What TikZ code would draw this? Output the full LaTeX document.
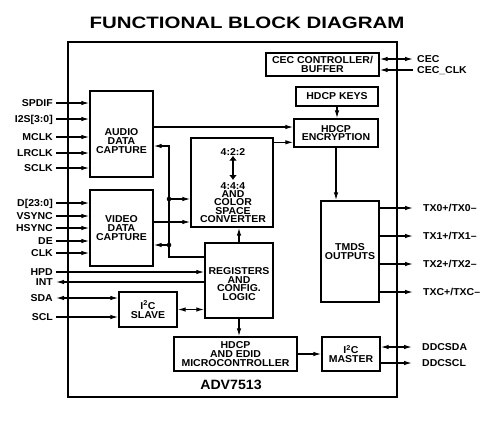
\documentclass[tikz,border=0pt]{standalone}
\usepackage{fontspec}
\setmainfont[FakeStretch=1.05]{Liberation Sans}
\newfontfamily\titlefont[FakeStretch=1.24]{Liberation Sans}
\usetikzlibrary{positioning,calc}
\usetikzlibrary{arrows.meta}
\tikzstyle{block} = [rectangle, draw=black, line width=1.4pt, align=center, inner sep=0pt,
font=\fontsize{10}{8.6}\selectfont\bfseries]
\tikzstyle{blocktext} = [align=center, inner sep=0pt, font=\fontsize{10}{8.6}\selectfont\bfseries]
\tikzstyle{signal} = [inner sep=0pt, inner xsep=3pt, text height=7pt, text depth=0pt,
font=\fontsize{10}{10}\selectfont\bfseries]
\tikzstyle{arrow} = [line width=1.2pt,-{Latex[length=8pt,width=4.5pt]}]
\tikzstyle{darrow} = [line width=1.2pt,{Latex[length=8pt,width=4.5pt]}-{Latex[length=8pt,width=4.5pt]}]

\begin{document}
\begin{tikzpicture}[x=1pt,y=-1pt]
\useasboundingbox (0,0) rectangle (491,421);
\node (title) at (247,23) {\titlefont\fontsize{16.5}{18}\selectfont\bfseries FUNCTIONAL BLOCK DIAGRAM};
\node (chip) at (232.5,219.5) [draw, line width=1.6pt, minimum width=329pt, minimum height=355pt] {};
\node (part) at (231,385) [font=\fontsize{13.5}{14}\selectfont\bfseries] {ADV7513};
% blocks
\node (audio) at (121.5,134) [block, minimum width=63pt, minimum height=86pt] {};
\node (audiotxt) at (121.5,141) [blocktext] {AUDIO\\DATA\\CAPTURE};
\node (video) at (121.5,228) [block, minimum width=63pt, minimum height=76pt] {VIDEO\\DATA\\CAPTURE};
\node (csc) at (232,182.5) [block, minimum width=82pt, minimum height=89pt] {};
\node (csc422) at (233,152) [signal] {4:2:2};
\node (csc444) at (233,202.5) [blocktext, font=\fontsize{10}{8.4}\selectfont\bfseries] {4:4:4\\AND\\COLOR\\SPACE\\CONVERTER};
\node (regs) at (239,280.5) [block, minimum width=68pt, minimum height=75pt] {};
\node (regstxt) at (239,284) [blocktext] {REGISTERS\\AND\\CONFIG.\\LOGIC};
\node (slave) at (148,309.5) [block, minimum width=58pt, minimum height=35pt] {I\textsuperscript{2}C\\SLAVE};
\node (cecbuf) at (322.5,64.5) [block, minimum width=113pt, minimum height=23pt] {CEC CONTROLLER/\\BUFFER};
\node (keys) at (337,96.5) [block, minimum width=82pt, minimum height=19pt] {HDCP KEYS};
\node (enc) at (336,133) [block, minimum width=84pt, minimum height=28pt] {HDCP\\ENCRYPTION};
\node (tmds) at (350,251.5) [block, minimum width=58pt, minimum height=101pt] {TMDS\\OUTPUTS};
\node (micro) at (235.5,354) [block, minimum width=123pt, minimum height=34pt] {HDCP\\AND EDID\\MICROCONTROLLER};
\node (master) at (351,354) [block, minimum width=58pt, minimum height=34pt] {I\textsuperscript{2}C\\MASTER};
% audio inputs
\node (spdif) at (56,103) [signal, anchor=east] {SPDIF};
\node (iis) at (56,119) [signal, anchor=east] {I2S[3:0]};
\node (mclk) at (56,137) [signal, anchor=east] {MCLK};
\node (lrclk) at (56,153) [signal, anchor=east] {LRCLK};
\node (sclk) at (56,168) [signal, anchor=east] {SCLK};
\draw[arrow] (spdif.east) -- (spdif.east -| audio.west);
\draw[arrow] (iis.east) -- (iis.east -| audio.west);
\draw[arrow] (mclk.east) -- (mclk.east -| audio.west);
\draw[arrow] (lrclk.east) -- (lrclk.east -| audio.west);
\draw[arrow] (sclk.east) -- (sclk.east -| audio.west);
% video inputs
\node (data) at (56,203) [signal, anchor=east] {D[23:0]};
\node (vsync) at (56,216) [signal, anchor=east] {VSYNC};
\node (hsync) at (56,228) [signal, anchor=east] {HSYNC};
\node (de) at (56,241) [signal, anchor=east] {DE};
\node (clk) at (56,253) [signal, anchor=east] {CLK};
\draw[arrow] (data.east) -- (data.east -| video.west);
\draw[arrow] (vsync.east) -- (vsync.east -| video.west);
\draw[arrow] (hsync.east) -- (hsync.east -| video.west);
\draw[arrow] (de.east) -- (de.east -| video.west);
\draw[arrow] (clk.east) -- (clk.east -| video.west);
% control
\node (hpd) at (56,272) [signal, anchor=east] {HPD};
\node (int) at (56,282) [signal, anchor=east] {INT};
\node (sda) at (56,298) [signal, anchor=east] {SDA};
\node (scl) at (56,317) [signal, anchor=east] {SCL};
\draw[arrow] (hpd.east) -- (hpd.east -| regs.west);
\draw[arrow] (int.east -| regs.west) -- (int.east);
\draw[darrow] (sda.east) -- (sda.east -| slave.west);
\draw[arrow] (scl.east) -- (scl.east -| slave.west);
\draw[darrow] (slave.east) -- (slave.east -| regs.west);
% internal paths
\coordinate (bus1) at (169,199);
\coordinate (bus2) at (169,245);
\draw[arrow] ([yshift=23.5pt]regs.west) -| (bus1) |- ([yshift=-12pt]audio.east);
\draw[arrow] (bus1) -- (bus1 -| csc.west);
\draw[arrow] (bus2) -- (bus2 -| video.east);
\fill (bus1) circle (2.3pt);
\fill (bus2) circle (2.3pt);
\draw[arrow] ([yshift=6pt]video.east) -- ([yshift=6pt]video.east -| csc.west);
\draw[arrow] ([yshift=7pt]audio.east) -- ([yshift=7pt]audio.east -| enc.west);
\draw[arrow] ([yshift=-5pt]csc.north east) -- ([yshift=-5pt]csc.north east -| enc.west);
\draw[line width=2.6pt, {Latex[length=5pt,width=8pt]}-{Latex[length=5pt,width=8pt]}] (csc422.south) -- ([yshift=2pt]csc444.north);
\draw[arrow] (regs.north) -- (regs.north |- csc.south);
\draw[arrow] (regs.south) -- (regs.south |- micro.north);
\draw[arrow] (keys.south) -- (keys.south |- enc.north);
\draw[arrow] (enc.south) -- (enc.south |- tmds.north);
\draw[arrow] (micro.east) -- (micro.east -| master.west);
% outputs
\node (cec) at (414,59) [signal, anchor=west] {CEC};
\node (cecclk) at (414,70) [signal, anchor=west] {CEC\_CLK};
\draw[darrow, shorten >=1pt] (cec.west -| cecbuf.east) -- (cec.west);
\draw[arrow, shorten <=1pt] (cecclk.west) -- (cecclk.west -| cecbuf.east);
\node (tx0) at (420,208) [signal, anchor=west] {TX0+/TX0–};
\node (tx1) at (420,236) [signal, anchor=west] {TX1+/TX1–};
\node (tx2) at (420,264) [signal, anchor=west] {TX2+/TX2–};
\node (txc) at (420,292) [signal, anchor=west] {TXC+/TXC–};
\draw[arrow, shorten >=7pt] (tx0.west -| tmds.east) -- (tx0.west);
\draw[arrow, shorten >=7pt] (tx1.west -| tmds.east) -- (tx1.west);
\draw[arrow, shorten >=7pt] (tx2.west -| tmds.east) -- (tx2.west);
\draw[arrow, shorten >=7pt] (txc.west -| tmds.east) -- (txc.west);
\node (ddcsda) at (419,347) [signal, anchor=west] {DDCSDA};
\node (ddcscl) at (419,363) [signal, anchor=west] {DDCSCL};
\draw[darrow, shorten >=7pt] (ddcsda.west -| master.east) -- (ddcsda.west);
\draw[arrow, shorten >=7pt] (ddcscl.west -| master.east) -- (ddcscl.west);
\end{tikzpicture}
\end{document}
